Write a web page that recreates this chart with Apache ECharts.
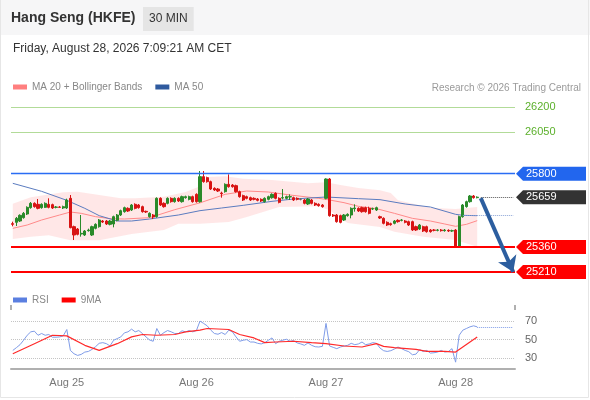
<!DOCTYPE html>
<html><head><meta charset="utf-8">
<script src="https://cdn.jsdelivr.net/npm/echarts@6/dist/echarts.min.js"></script>
<style>html,body{margin:0;padding:0;background:#fff}#c{width:590px;height:400px}</style>
</head><body><div id="c"></div>
<script>
// ---------- data ----------
const slotCount = 140;
const dayLabelIdx = [15, 51, 87, 123];
const dayLabels = ['Aug 25', 'Aug 26', 'Aug 27', 'Aug 28'];

const opens = [25500,25508,25516,25536,25558,25596,25622,25616,25596,25598,25616,25614,25598,25600,25594,25594,25652,25482,25468,25438,
25432,25458,25432,25472,25482,25516,25516,25496,25498,25520,25552,25572,25592,25582,25616,25612,25602,25574,25542,25552,
25542,25652,25622,25622,25652,25632,25652,25632,25656,25646,25662,25676,25632,25782,25776,25752,25712,25708,25684,25692,
25736,25732,25728,25692,25668,25662,25656,25652,25648,25646,25632,25646,25656,25682,25652,25654,25652,25660,25656,25652,
25646,25642,25618,25642,25622,25616,25612,25652,25768,25552,25552,25548,25522,25548,25552,25590,25592,25596,25596,25592,
25588,25582,25542,25532,25508,25500,25502,25520,25520,25516,25512,25512,25482,25468,25482,25482,25462,25462,25460,25462,
25458,25460,25456,25462,25362,25542,25602,25632,25666,25656];
const closes = [25496,25532,25550,25562,25598,25622,25602,25592,25616,25622,25598,25594,25600,25598,25602,25642,25476,25432,25436,25442,
25456,25462,25482,25496,25522,25510,25498,25516,25542,25552,25578,25596,25576,25612,25592,25596,25572,25570,25562,25540,
25652,25612,25602,25652,25632,25652,25636,25662,25662,25662,25632,25632,25782,25752,25752,25708,25702,25696,25680,25736,
25722,25722,25692,25662,25642,25652,25642,25646,25640,25636,25652,25662,25676,25652,25628,25656,25662,25662,25642,25646,
25646,25622,25648,25622,25612,25608,25602,25768,25548,25546,25512,25508,25552,25556,25592,25594,25576,25572,25572,25562,
25590,25596,25534,25502,25492,25494,25516,25512,25522,25508,25492,25462,25462,25492,25456,25452,25452,25460,25462,25458,
25462,25456,25458,25362,25542,25612,25632,25666,25656,25659];
const lows = [25484,25486,25510,25530,25552,25590,25596,25586,25590,25594,25592,25588,25592,25594,25588,25588,25472,25402,25430,25422,
25426,25452,25426,25466,25476,25504,25492,25490,25478,25514,25546,25566,25570,25576,25586,25590,25566,25564,25536,25528,
25536,25606,25596,25616,25626,25626,25630,25626,25650,25640,25626,25626,25626,25746,25746,25702,25696,25690,25656,25686,
25716,25716,25686,25656,25636,25646,25636,25640,25634,25630,25626,25640,25650,25646,25622,25646,25646,25642,25636,25640,
25640,25616,25612,25616,25606,25602,25596,25646,25542,25540,25506,25502,25516,25542,25532,25572,25570,25566,25566,25556,
25582,25576,25528,25496,25486,25488,25496,25506,25514,25502,25486,25456,25456,25462,25450,25446,25446,25454,25454,25452,
25452,25450,25450,25356,25356,25536,25596,25626,25650,25652];
const highs = [25512,25540,25556,25570,25604,25630,25628,25648,25622,25628,25652,25620,25606,25606,25608,25650,25672,25488,25474,25552,
25462,25470,25488,25502,25528,25522,25522,25522,25548,25558,25584,25602,25598,25618,25622,25618,25608,25578,25568,25558,
25658,25658,25628,25658,25658,25658,25658,25668,25668,25668,25668,25682,25816,25816,25782,25758,25718,25714,25692,25742,
25796,25738,25734,25698,25674,25668,25662,25658,25654,25652,25658,25668,25682,25688,25658,25708,25668,25676,25662,25658,
25652,25648,25654,25648,25628,25622,25618,25772,25774,25558,25558,25554,25558,25562,25598,25616,25598,25602,25602,25602,
25596,25602,25548,25538,25514,25506,25522,25526,25528,25522,25518,25518,25488,25498,25488,25488,25468,25468,25468,25468,
25468,25466,25464,25468,25548,25618,25638,25672,25672,25664];

// [bar index, value]
const ma20 = [[0,25472],[4,25492],[8,25522],[13,25552],[16,25570],[19,25562],[23,25542],[27,25530],[31,25528],[38,25536],[45,25584],
[52,25625],[59,25676],[65,25696],[71,25690],[77,25672],[85,25652],[88,25642],[92,25626],[96,25604],[101,25590],[106,25562],
[111,25532],[116,25516],[120,25498],[123,25484],[126,25496],[129,25518]];
const ma50 = [[0,25742],[8,25694],[15,25640],[20,25592],[24,25548],[29,25516],[33,25516],[38,25528],[46,25552],[52,25578],[58,25594],
[64,25610],[72,25634],[78,25648],[87,25660],[96,25650],[102,25644],[109,25618],[116,25600],[123,25556],[125,25550],[129,25548]];
const bbUpper = [[0,25620],[5,25658],[14,25688],[18,25692],[24,25672],[30,25652],[34,25652],[42,25662],[48,25690],[52,25725],[54,25780],
[59,25784],[64,25770],[72,25762],[82,25742],[87,25748],[91,25732],[96,25714],[102,25700],[105,25684],[107,25640],[116,25596],
[123,25588],[129,25600]];
const bbLower = [[0,25408],[5,25422],[10,25430],[16,25400],[24,25400],[33,25438],[42,25462],[46,25500],[52,25500],[60,25510],[65,25540],
[74,25600],[85,25604],[88,25580],[93,25504],[102,25480],[106,25452],[114,25422],[123,25402],[129,25362]];

const rsi = [38.3,41.3,44.5,49.3,54.7,58.4,59.1,54.7,56.6,54.7,55.5,52.6,52.6,52.9,54.0,60.9,38.3,34.7,32.9,34.0,
36.5,37.2,39.4,42.4,46.0,46.7,45.6,43.1,49.3,51.1,52.9,57.3,58.4,61.3,58.4,59.8,56.6,52.9,49.6,48.2,
62.0,54.7,57.6,59.8,58.4,56.6,56.6,59.5,58.4,59.8,58.4,59.8,70.0,67.5,64.9,60.2,56.6,55.8,57.6,55.5,
60.2,58.4,52.9,48.2,49.3,50.0,47.4,47.4,46.0,45.3,46.7,49.3,51.8,45.6,48.2,49.3,50.4,48.2,48.9,46.4,
45.3,43.8,46.4,43.8,42.3,42.0,42.7,67.5,43.1,41.6,40.2,42.0,43.1,43.8,46.0,44.5,45.3,47.4,44.5,45.3,
46.7,46.0,40.9,38.0,37.2,38.0,39.8,42.0,40.2,38.3,36.9,33.6,34.3,39.1,37.2,38.3,35.4,35.8,36.5,38.3,
36.5,37.2,40.2,25.6,54.7,60.2,62.0,63.8,64.9,63.8];
const rsiMA = [[0,34.7],[6,45.6],[11,54.7],[15,54.0],[20,43.8],[24,38.3],[29,45.6],[33,52.9],[36,55.5],[40,54.7],[45,55.5],[48,58.4],
[52,60.2],[54,62.0],[60,60.9],[63,55.5],[67,51.8],[70,46.7],[73,47.4],[78,48.2],[83,46.7],[87,45.6],[92,43.1],[97,42.0],
[101,45.6],[103,42.7],[106,41.3],[112,39.4],[115,37.2],[120,37.2],[123,36.5],[129,52.9]];

const resistance = [26200, 26050];
const pivot = 25800;
const lastPrice = 25659;
const supports = [25360, 25210];
const target = 25210;
const rsiLevels = [70, 50, 30];
// ---------- chart ----------
const FONT = "'Liberation Sans', Arial, sans-serif";
const lastIdx = closes.length - 1;
const categories = Array.from({length: slotCount}, (_, i) => {
  const k = dayLabelIdx.indexOf(i); return k >= 0 ? dayLabels[k] : String(i);
});
const candles = opens.map((o, i) => [o, closes[i], lows[i], highs[i]]);
const tagValues = [resistance[0], resistance[1], pivot, lastPrice, supports[0], supports[1]];
const tagFill = [null, null, '#2266ee', '#333333', '#ff0000', '#ff0000'];
const ma50Last = ma50[ma50.length - 1][1];
const rsiLast = rsi[rsi.length - 1];

const chart = echarts.init(document.getElementById('c'), null, {renderer: 'canvas'});
chart.setOption({
  animation: false,
  backgroundColor: '#fff',
  textStyle: {fontFamily: FONT},
  graphic: [
    {type: 'rect', z: -10, shape: {x: 0, y: 0, width: 590, height: 35}, style: {fill: '#f6f6f7'}},
    {type: 'rect', z: -10, shape: {x: 0.5, y: -2, width: 588, height: 399.5}, style: {fill: 'none', stroke: '#e6e6e6', lineWidth: 1}}
  ],
  title: [
    {text: 'Hang Seng (HKFE)', left: 11, top: 11, padding: 0, textStyle: {fontFamily: FONT, fontSize: 14, fontWeight: 'bold', color: '#333'}},
    {text: '30 MIN', left: 143, top: 7, padding: [6, 6], backgroundColor: '#e5e5e5', textStyle: {fontFamily: FONT, fontSize: 12, fontWeight: 'normal', color: '#333'}},
    {text: 'Friday, August 28, 2026 7:09:21 AM CET', left: 13, top: 43, padding: 0, textStyle: {fontFamily: FONT, fontSize: 12, fontWeight: 'normal', color: '#333'}},
    {text: 'Research \u00a9 2026 Trading Central', right: 9, top: 83, padding: 0, textStyle: {fontFamily: FONT, fontSize: 10, fontWeight: 'normal', color: '#9a9a9a'}}
  ],
  legend: [
    {data: ['MA 20 + Bollinger Bands', 'MA 50'], left: 13, top: 82, padding: 0, icon: 'rect', itemWidth: 14, itemHeight: 5, itemGap: 13, selectedMode: false,
     textStyle: {fontFamily: FONT, fontSize: 10, color: '#888'}},
    {data: ['RSI', '9MA'], left: 13, top: 295, padding: 0, icon: 'rect', itemWidth: 14, itemHeight: 5, itemGap: 13, selectedMode: false,
     textStyle: {fontFamily: FONT, fontSize: 10, color: '#888'}}
  ],
  grid: [
    {left: 11, right: 75, top: 97, height: 190},
    {left: 11, right: 75, top: 310, height: 59.2}
  ],
  xAxis: [
    {type: 'category', gridIndex: 0, data: categories, show: false, boundaryGap: true},
    {type: 'category', gridIndex: 1, data: categories, boundaryGap: true,
     axisLine: {show: true, lineStyle: {color: '#b0b0b0', width: 2}}, axisTick: {show: false},
     axisLabel: {interval: (idx) => dayLabelIdx.includes(idx), color: '#777', fontSize: 11, fontFamily: FONT, margin: 8},
     splitLine: {show: false}},
    {type: 'value', gridIndex: 1, min: 0, max: 1, interval: 1, axisLine: {show: false}, axisLabel: {show: false}, splitLine: {show: false},
     axisTick: {show: true, length: 5, lineStyle: {color: '#b0b0b0', width: 2}}}
  ],
  yAxis: [
    {type: 'value', gridIndex: 0, min: 25120, max: 26260, show: false, splitLine: {show: false}},
    {type: 'value', gridIndex: 1, min: 18, max: 82, show: false, splitLine: {show: false}}
  ],
  series: [
    {type: 'custom', name: 'band', xAxisIndex: 0, yAxisIndex: 0, z: 1, silent: true, data: bbUpper,
     renderItem: (params, api) => {
       if (params.dataIndex !== 0) return null;
       const top = bbUpper.map(p => api.coord(p));
       const bot = bbLower.slice().reverse().map(p => api.coord(p));
       return {type: 'polygon', shape: {points: top.concat(bot)}, style: {fill: 'rgba(255,40,40,0.11)'}};
     }},
    {type: 'line', name: 'MA 20 + Bollinger Bands', xAxisIndex: 0, yAxisIndex: 0, z: 2, data: ma20, color: '#ff7f7f',
     showSymbol: false, lineStyle: {width: 1, color: '#ff8a8a'}},
    {type: 'line', name: 'MA 50', xAxisIndex: 0, yAxisIndex: 0, z: 2, data: ma50, color: '#2f5a9e',
     showSymbol: false, lineStyle: {width: 1, color: '#5b7cc0'}},
    {type: 'candlestick', name: 'price', xAxisIndex: 0, yAxisIndex: 0, z: 3, data: candles, barWidth: 2.6,
     itemStyle: {color: '#2a8a2a', color0: '#d81414', borderColor: '#2a8a2a', borderColor0: '#d81414', borderColorDoji: '#666', borderWidth: 1},
     markLine: {
       silent: true, symbol: ['none', 'none'], label: {show: false}, z: 4,
       data: [
         {yAxis: resistance[0], lineStyle: {color: '#b2db98', width: 1, type: 'solid'}},
         {yAxis: resistance[1], lineStyle: {color: '#b2db98', width: 1, type: 'solid'}},
         {yAxis: pivot, lineStyle: {color: '#2a6df4', width: 1.4, type: 'solid', opacity: 1}},
         {yAxis: supports[0], lineStyle: {color: '#ff0000', width: 2, type: 'solid'}},
         {yAxis: supports[1], lineStyle: {color: '#ff0000', width: 2, type: 'solid'}},
         [{coord: [lastIdx + 1, lastPrice], symbol: 'none', lineStyle: {color: '#555', width: 1, type: 'dotted'}}, {coord: [slotCount - 1, lastPrice], symbol: 'none'}],
         [{coord: [lastIdx - 4, ma50Last], symbol: 'none', lineStyle: {color: '#8aa3d6', width: 1, type: 'dotted'}}, {coord: [slotCount - 1, ma50Last], symbol: 'none'}],
         [{coord: [lastIdx + 1, lastPrice - 6], symbol: 'none', lineStyle: {color: '#2c5e9f', width: 4, type: 'solid'}}, {coord: [slotCount - 1, target], symbol: 'arrow', symbolSize: 15}]
       ]
     }},
    {type: 'custom', name: 'tags', xAxisIndex: 0, yAxisIndex: 0, z: 5, silent: true, clip: false,
     data: tagValues.map(v => [0, v]),
     renderItem: (params, api) => {
       const v = api.value(1);
       const y = api.coord([0, v])[1];
       const x0 = params.coordSys.x + params.coordSys.width;
       const fill = tagFill[params.dataIndex];
       if (!fill) {
         return {type: 'text', x: x0 + 10, y: y, style: {text: String(v), fill: '#5cb02c', font: '11px ' + FONT, verticalAlign: 'middle', align: 'left'}};
       }
       return {type: 'group', children: [
         {type: 'polygon', shape: {points: [[x0 + 1, y], [x0 + 8, y - 7], [x0 + 71, y - 7], [x0 + 71, y + 7], [x0 + 8, y + 7]]}, style: {fill: fill}},
         {type: 'text', x: x0 + 11, y: y, style: {text: String(v), fill: '#fff', font: '11px ' + FONT, verticalAlign: 'middle', align: 'left'}}
       ]};
     }},
    {type: 'line', name: 'RSI', xAxisIndex: 1, yAxisIndex: 1, z: 3, data: rsi, color: '#5b7fe0',
     showSymbol: false, lineStyle: {width: 1, color: '#7f9ce8'},
     markLine: {
       silent: true, symbol: ['none', 'none'], z: 1,
       label: {show: true, position: 'end', distance: 10, formatter: '{c}', color: '#666', fontSize: 11, fontFamily: FONT},
       lineStyle: {color: '#c4c4c4', type: 'dotted', width: 1},
       data: rsiLevels.map(v => ({yAxis: v})).concat([
         [{coord: [lastIdx, rsiLast], symbol: 'none', label: {show: false}, lineStyle: {color: '#7f9ce8', type: 'dotted', width: 1}}, {coord: [slotCount - 1, rsiLast], symbol: 'none'}]
       ])
     }},
    {type: 'line', name: '9MA', xAxisIndex: 1, yAxisIndex: 1, z: 4, data: rsiMA, color: '#ff0000',
     showSymbol: false, lineStyle: {width: 1.2, color: '#ff2a2a'}}
  ]
});
</script>
</body></html>
